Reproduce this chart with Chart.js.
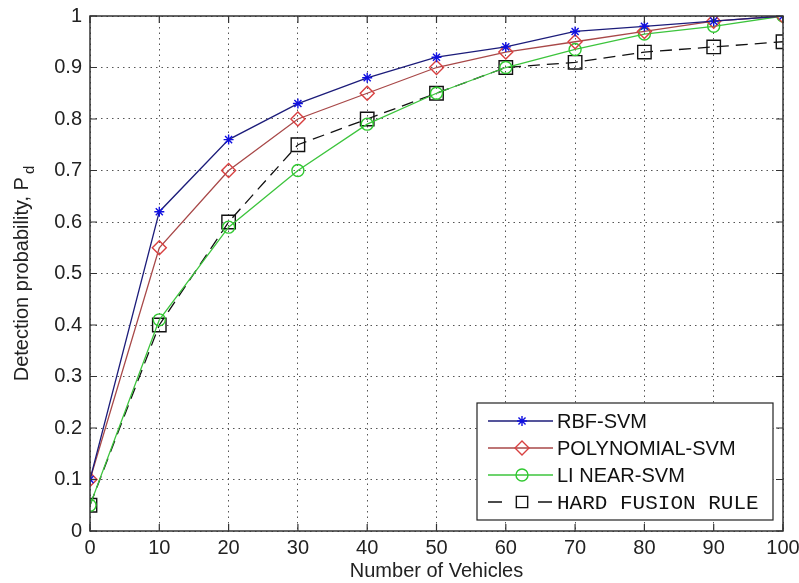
<!DOCTYPE html>
<html>
<head>
<meta charset="utf-8">
<script src="https://cdn.jsdelivr.net/npm/chart.js"></script>
<style>
  html, body { margin: 0; padding: 0; background: #fff; }
  canvas { display: block; }
</style>
</head>
<body>
<canvas id="pdChart" width="799" height="583"></canvas>
<script>
// values
const vehicles = [0, 10, 20, 30, 40, 50, 60, 70, 80, 90, 100];
const rbfSvm = [0.10, 0.62, 0.76, 0.83, 0.88, 0.92, 0.94, 0.97, 0.98, 0.99, 1.00];
const polySvm = [0.10, 0.55, 0.70, 0.80, 0.85, 0.90, 0.93, 0.95, 0.97, 0.99, 1.00];
const linearSvm = [0.05, 0.41, 0.59, 0.70, 0.79, 0.85, 0.90, 0.935, 0.965, 0.98, 1.00];
const hardFusion = [0.05, 0.40, 0.60, 0.75, 0.80, 0.85, 0.90, 0.91, 0.93, 0.94, 0.95];
const xTicks = [0, 10, 20, 30, 40, 50, 60, 70, 80, 90, 100];
const yTicks = [0, 0.1, 0.2, 0.3, 0.4, 0.5, 0.6, 0.7, 0.8, 0.9, 1];

const toPoints = (ys) => ys.map((y, i) => ({ x: vehicles[i], y: y }));

const sansFont = "Liberation Sans, Arial, sans-serif";
const monoFont = "Liberation Mono, Courier New, monospace";

const data = {
  datasets: [
    {
      label: "RBF-SVM",
      data: toPoints(rbfSvm),
      borderColor: "#1c1c7a",
      pointBorderColor: "#1010e0",
      pointStyle: "star",
      pointRadius: 5,
      legendFont: "20px " + sansFont,
    },
    {
      label: "POLYNOMIAL-SVM",
      data: toPoints(polySvm),
      borderColor: "#a84848",
      pointBorderColor: "#d84040",
      pointStyle: "rectRot",
      pointRadius: 7,
      legendFont: "20px " + sansFont,
    },
    {
      label: "LI NEAR-SVM",
      data: toPoints(linearSvm),
      borderColor: "#3cc43c",
      pointBorderColor: "#30c830",
      pointStyle: "circle",
      pointRadius: 6,
      legendFont: "20px " + sansFont,
    },
    {
      label: "HARD FUSION RULE",
      data: toPoints(hardFusion),
      borderColor: "#111111",
      pointBorderColor: "#111111",
      borderDash: [12, 7],
      pointStyle: "rect",
      pointRadius: 9.5,
      legendFont: "21px " + monoFont,
    },
  ],
};

data.datasets.forEach((d) => {
  d.borderWidth = 1.3;
  d.backgroundColor = "rgba(0,0,0,0)";
  d.pointBackgroundColor = "rgba(0,0,0,0)";
  d.pointBorderWidth = 1.4;
  d.tension = 0;
  d.fill = false;
});

// frame on all four sides with inward ticks, MATLAB style
const framePlugin = {
  id: "frame",
  afterDatasetsDraw(chart) {
    const { ctx, chartArea: a, scales } = chart;
    ctx.save();
    ctx.strokeStyle = "#333";
    ctx.lineWidth = 1.5;
    ctx.strokeRect(a.left, a.top, a.right - a.left, a.bottom - a.top);
    ctx.lineWidth = 1.2;
    ctx.beginPath();
    xTicks.forEach((v) => {
      const px = scales.x.getPixelForValue(v);
      ctx.moveTo(px, a.bottom); ctx.lineTo(px, a.bottom - 7);
      ctx.moveTo(px, a.top); ctx.lineTo(px, a.top + 7);
    });
    yTicks.forEach((v) => {
      const py = scales.y.getPixelForValue(v);
      ctx.moveTo(a.left, py); ctx.lineTo(a.left + 7, py);
      ctx.moveTo(a.right, py); ctx.lineTo(a.right - 7, py);
    });
    ctx.stroke();
    ctx.restore();
  },
  afterDraw(chart) {
    const { ctx, chartArea: a } = chart;
    // y axis title with subscript
    ctx.save();
    ctx.translate(22, (a.top + a.bottom) / 2);
    ctx.rotate(-Math.PI / 2);
    ctx.fillStyle = "#222";
    ctx.textBaseline = "middle";
    const main = "Detection probability, P";
    ctx.font = "20px " + sansFont;
    const w1 = ctx.measureText(main).width;
    ctx.font = "15px " + sansFont;
    const w2 = ctx.measureText("d").width;
    const start = -(w1 + w2 + 3) / 2;
    ctx.font = "20px " + sansFont;
    ctx.textAlign = "left";
    ctx.fillText(main, start, 0);
    ctx.font = "15px " + sansFont;
    ctx.fillText("d", start + w1 + 3, 8);
    ctx.restore();

    // legend box, bottom right inside the axes
    const boxR = a.right - 10, boxB = a.bottom - 11;
    const boxL = a.left + 387, boxT = boxB - 117;
    ctx.save();
    ctx.fillStyle = "#fff";
    ctx.fillRect(boxL, boxT, boxR - boxL, boxB - boxT);
    ctx.strokeStyle = "#222";
    ctx.lineWidth = 1.2;
    ctx.strokeRect(boxL, boxT, boxR - boxL, boxB - boxT);
    chart.data.datasets.forEach((ds, i) => {
      const y = boxT + 18 + i * 27;
      ctx.save();
      ctx.strokeStyle = ds.borderColor;
      ctx.lineWidth = ds.borderWidth;
      ctx.setLineDash(ds.borderDash ? [14, 36] : []);
      ctx.beginPath();
      ctx.moveTo(boxL + 11, y);
      ctx.lineTo(boxL + 76, y);
      ctx.stroke();
      ctx.restore();
      ctx.save();
      ctx.strokeStyle = ds.pointBorderColor;
      ctx.fillStyle = "rgba(0,0,0,0)";
      ctx.lineWidth = ds.pointBorderWidth;
      Chart.helpers.drawPoint(ctx, {
        pointStyle: ds.pointStyle,
        radius: ds.pointStyle === "rect" ? 8 : ds.pointRadius,
        rotation: 0,
        borderWidth: ds.pointBorderWidth,
      }, boxL + 45, y);
      ctx.restore();
      ctx.fillStyle = "#111";
      ctx.font = ds.legendFont;
      ctx.textBaseline = "middle";
      ctx.textAlign = "left";
      ctx.fillText(ds.label, boxL + 80, y + 1);
    });
    ctx.restore();
  },
};

const tickFont = { family: sansFont, size: 20 };

const config = {
  type: "line",
  data: data,
  options: {
    responsive: false,
    animation: false,
    devicePixelRatio: 1,
    layout: { padding: { top: 16, right: 16, left: 0, bottom: 0 } },
    plugins: {
      legend: { display: false },
      tooltip: { enabled: false },
    },
    scales: {
      x: {
        type: "linear",
        min: 0,
        max: 100,
        afterBuildTicks: (s) => { s.ticks = xTicks.map((v) => ({ value: v })); },
        afterFit: (s) => { s.height = 52; s.paddingLeft = 0; s.paddingRight = 0; },
        ticks: { font: tickFont, color: "#222", padding: 5, maxRotation: 0 },
        grid: { color: "#555", lineWidth: 1, drawTicks: false },
        border: { display: false, dash: [1.5, 4] },
        title: {
          display: true,
          text: "Number of Vehicles",
          font: tickFont,
          color: "#222",
          padding: 0,
        },
      },
      y: {
        min: 0,
        max: 1,
        afterBuildTicks: (s) => { s.ticks = yTicks.map((v) => ({ value: v })); },
        afterFit: (s) => { s.width = 90; s.paddingTop = 0; s.paddingBottom = 0; },
        ticks: {
          font: tickFont,
          color: "#222",
          padding: 8,
          callback: (v) => (v === 0 || v === 1 ? String(v) : v.toFixed(1)),
        },
        grid: { color: "#555", lineWidth: 1, drawTicks: false },
        border: { display: false, dash: [1.5, 4] },
      },
    },
  },
  plugins: [framePlugin],
};

const ctx = document.getElementById("pdChart").getContext("2d");
const pdChart = new Chart(ctx, config);
</script>
</body>
</html>
